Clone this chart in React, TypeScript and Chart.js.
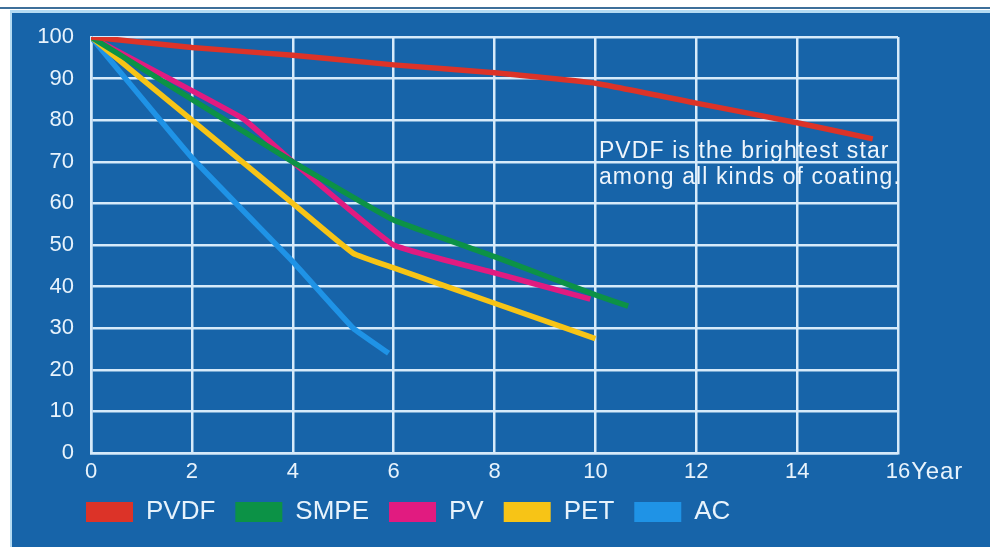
import React, { useEffect, useRef } from "react";
import { Chart, registerables } from "chart.js";

Chart.register(...registerables);

// ---- data ----
const seriesNames = ["PVDF", "SMPE", "PV", "PET", "AC"];
const seriesColors = ["#dc3328", "#0c9246", "#e11b80", "#f7c416", "#1f93e6"];

const pvdfX = [0, 2, 4, 6, 8, 10, 12, 14, 15.5];
const pvdfY = [100, 97.5, 95.6, 93.3, 91.4, 88.9, 84.1, 79.4, 75.5];

const smpeX = [0, 2, 4, 6, 8, 10, 10.65];
const smpeY = [100, 85, 70, 56, 47.2, 38, 35.3];

const pvX = [0, 3, 4, 6, 8, 9.9];
const pvY = [100, 80.5, 70, 50, 43.3, 37];

const petX = [0, 2, 4, 5.2, 6, 8, 10];
const petY = [100, 80, 60, 48, 44.5, 36, 27.5];

const acX = [0, 2, 4, 5.2, 5.9];
const acY = [100, 71, 46, 30, 24];

const xTicks = [0, 2, 4, 6, 8, 10, 12, 14, 16];
const yTicks = [0, 10, 20, 30, 40, 50, 60, 70, 80, 90, 100];
const xUnitLabel = "Year";

const noteLines = ["PVDF is the brightest star", "among all kinds of coating."];
const noteAnchor = { x: 10.07, y: 71 };

const FONT = "'Liberation Sans', Arial, Helvetica, sans-serif";
const TEXT = "#e8f3fc";
const GRID = "#d6eafa";

const toPoints = (xs: number[], ys: number[]) => xs.map((x, i) => ({ x, y: ys[i] }));
const allX = [pvdfX, smpeX, pvX, petX, acX];
const allY = [pvdfY, smpeY, pvY, petY, acY];

const extrasPlugin = {
  id: "extras",
  afterLayout(chart: any) {
    // start legend just left of the plot area
    if (chart.legend) chart.legend.left = chart.chartArea.left - 25;
  },
  afterDatasetsDraw(chart: any) {
    const { ctx, scales } = chart;
    const xs = scales.x;
    const ys = scales.y;
    ctx.save();
    // annotation
    ctx.font = `23px ${FONT}`;
    (ctx as any).letterSpacing = "1.1px";
    ctx.fillStyle = "#eef5fc";
    ctx.textAlign = "left";
    ctx.textBaseline = "alphabetic";
    const ax = xs.getPixelForValue(noteAnchor.x);
    const ay = ys.getPixelForValue(noteAnchor.y);
    noteLines.forEach((t, i) => ctx.fillText(t, ax, ay + i * 26));
    (ctx as any).letterSpacing = "0px";
    // unit label after last x tick
    ctx.font = `22px ${FONT}`;
    const last = xTicks[xTicks.length - 1];
    const lx = xs.getPixelForValue(last) + ctx.measureText(String(last)).width / 2 + 1;
    ctx.font = `24px ${FONT}`;
    (ctx as any).letterSpacing = "0.8px";
    ctx.fillStyle = TEXT;
    ctx.textBaseline = "middle";
    ctx.fillText(xUnitLabel, lx, xs.top + 6 + 13.2);
    ctx.restore();
  },
};

export default function App() {
  const ref = useRef<HTMLCanvasElement>(null);
  useEffect(() => {
    if (!ref.current) return;
    const chart = new Chart(ref.current, {
      type: "line",
      data: {
        datasets: seriesNames.map((name, i) => ({
          label: name,
          data: toPoints(allX[i], allY[i]),
          borderColor: seriesColors[i],
          backgroundColor: seriesColors[i],
          borderWidth: 5.5,
          pointRadius: 0,
          tension: 0.1,
          fill: false,
        })),
      },
      options: {
        responsive: false,
        animation: false,
        layout: { padding: { left: 20, right: 92, top: 37, bottom: 15 } },
        plugins: {
          tooltip: { enabled: false },
          legend: {
            position: "bottom",
            align: "start",
            labels: {
              boxWidth: 47,
              boxHeight: 20,
              padding: 20,
              color: TEXT,
              font: { size: 26, family: FONT },
              generateLabels: (c: any) =>
                c.data.datasets.map((d: any, i: number) => ({
                  text: d.label,
                  fillStyle: seriesColors[i],
                  strokeStyle: seriesColors[i],
                  lineWidth: 0,
                  fontColor: TEXT,
                  datasetIndex: i,
                })),
            },
          },
        },
        scales: {
          x: {
            type: "linear",
            min: 0,
            max: 16,
            afterFit: (s: any) => {
              s.height = 26;
            },
            afterBuildTicks: (s: any) => {
              s.ticks = xTicks.map((v) => ({ value: v }));
            },
            ticks: {
              padding: 6,
              color: TEXT,
              font: { size: 22, family: FONT },
              maxRotation: 0,
            },
            grid: { color: GRID, lineWidth: 2.5, drawTicks: false },
            border: { color: GRID, width: 2.5 },
          },
          y: {
            type: "linear",
            min: 0,
            max: 100,
            afterFit: (s: any) => {
              s.width = 71;
            },
            afterBuildTicks: (s: any) => {
              s.ticks = yTicks.map((v) => ({ value: v }));
            },
            ticks: {
              padding: 17,
              color: TEXT,
              font: { size: 22, family: FONT },
            },
            grid: { color: GRID, lineWidth: 2.5, drawTicks: false },
            border: { color: GRID, width: 2.5 },
          },
        },
      },
      plugins: [extrasPlugin],
    } as any);
    return () => chart.destroy();
  }, []);

  return (
    <div
      style={{
        position: "fixed",
        left: 0,
        top: 0,
        width: 990,
        height: 550,
        background: "#ffffff",
        overflow: "hidden",
      }}
    >
      <div style={{ position: "absolute", left: 0, top: 7, width: 990, height: 2, background: "#3d6f9a" }} />
      <div style={{ position: "absolute", left: 10, top: 10, right: 0, bottom: 3, background: "#b4dbf3" }} />
      <div style={{ position: "absolute", left: 12, top: 13, right: 0, bottom: 3, background: "#1764a9" }} />
      <canvas ref={ref} width={990} height={550} style={{ position: "absolute", left: 0, top: 0 }} />
    </div>
  );
}
